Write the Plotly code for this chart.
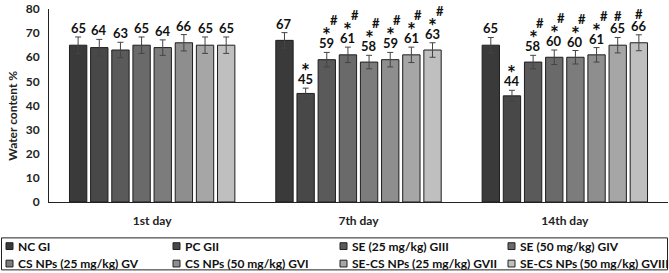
import plotly.graph_objects as go

categories = ["1st day", "7th day", "14th day"]
groups = ["NC GI", "PC GII", "SE (25 mg/kg) GIII", "SE (50 mg/kg) GIV",
          "CS NPs (25 mg/kg) GV", "CS NPs (50 mg/kg) GVI",
          "SE-CS NPs (25 mg/kg) GVII", "SE-CS NPs (50 mg/kg) GVIII"]
colors = ["#3a3a3a", "#484848", "#5a5a5a", "#6a6a6a",
          "#7c7c7c", "#8e8e8e", "#a6a6a6", "#bfbfbf"]

# values[group][day]
values = [
    [65, 67, 65],
    [64, 45, 44],
    [63, 59, 58],
    [65, 61, 60],
    [64, 58, 60],
    [66, 59, 61],
    [65, 61, 65],
    [65, 63, 66],
]
errors = [
    [3.4, 3.2, 3.2],
    [3.4, 2.2, 2.3],
    [3.2, 3.0, 2.8],
    [3.4, 3.2, 3.0],
    [3.2, 2.8, 2.8],
    [3.4, 3.0, 3.0],
    [3.4, 3.2, 3.2],
    [3.4, 3.0, 3.3],
]
# significance marks: "" none, "*", "#", "*#"
marks = [
    ["", "", ""],
    ["", "*", "*"],
    ["", "*#", "*#"],
    ["", "*#", "*#"],
    ["", "*#", "*#"],
    ["", "*#", "*#"],
    ["", "*#", "#"],
    ["", "*#", "#"],
]
y_ticks = [0, 10, 20, 30, 40, 50, 60, 70, 80]

FONT = "Lato"
W, H = 669, 273
ML, MR, MT, MB = 49, 1, 3, 71
PW, PH = W - ML - MR, H - MT - MB
BARGAP, GROUPGAP = 0.18, 0.18


def xp(px):
    return (px - ML) / PW


def yp(py):
    return (H - MB - py) / PH


fig = go.Figure()
for gi, name in enumerate(groups):
    fig.add_trace(go.Bar(
        x=categories, y=values[gi], name=name,
        marker=dict(color=colors[gi], line=dict(color="#1e1e1e", width=1)),
        error_y=dict(type="data", array=errors[gi], visible=True,
                     color="#444444", thickness=1, width=3),
        showlegend=False,
    ))

annotations = []
n = len(groups)
slot = (1 - BARGAP) / n
for gi in range(n):
    for ci in range(len(categories)):
        xv = ci + (gi - (n - 1) / 2) * slot
        top = values[gi][ci] + errors[gi][ci]
        annotations.append(dict(
            x=xv, y=top, xref="x", yref="y", text=str(values[gi][ci]),
            showarrow=False, yanchor="bottom", yshift=-1,
            font=dict(family=FONT, size=13, color="#111111", weight="bold")))
        m = marks[gi][ci]
        if "*" in m:
            annotations.append(dict(
                x=xv, y=top, xref="x", yref="y", text="*",
                showarrow=False, yanchor="bottom", yshift=3,
                font=dict(family=FONT, size=21, color="#111111", weight="bold")))
        if "#" in m:
            if "*" in m:
                xs, ys = 7, 22
            else:
                xs, ys = 0, 11
            annotations.append(dict(
                x=xv, y=top, xref="x", yref="y", text="#",
                showarrow=False, yanchor="bottom", yshift=ys, xshift=xs,
                font=dict(family=FONT, size=13, color="#111111", weight="bold")))

# y-axis title
annotations.append(dict(
    x=xp(13), y=yp(113), xref="paper", yref="paper", text="Water content %",
    textangle=-90, showarrow=False, xanchor="center", yanchor="middle",
    font=dict(family=FONT, size=12, color="#222222", weight="bold")))

# custom legend
shapes = [dict(type="rect", xref="paper", yref="paper",
               x0=xp(1.5), x1=xp(667.5), y0=yp(239), y1=yp(272),
               line=dict(color="#222222", width=1), fillcolor="rgba(0,0,0,0)")]
col_x = [6, 173, 340, 508]
row_y = [247.5, 265.5]
for gi, name in enumerate(groups):
    cx = col_x[gi % 4]
    cy = row_y[gi // 4]
    shapes.append(dict(type="rect", xref="paper", yref="paper",
                       x0=xp(cx), x1=xp(cx + 7), y0=yp(cy - 3.5), y1=yp(cy + 3.5),
                       line=dict(color="#222222", width=1), fillcolor=colors[gi]))
    annotations.append(dict(
        x=xp(cx + 10), y=yp(cy), xref="paper", yref="paper", text=name,
        showarrow=False, xanchor="left", yanchor="middle",
        font=dict(family=FONT, size=12, color="#111111", weight="bold")))

fig.update_layout(
    width=W, height=H,
    margin=dict(l=ML, r=MR, t=MT, b=MB, pad=0),
    barmode="group", bargap=BARGAP, bargroupgap=GROUPGAP,
    plot_bgcolor="white", paper_bgcolor="white",
    font=dict(family=FONT, size=12, color="#222222"),
    annotations=annotations, shapes=shapes,
    xaxis=dict(showline=True, linecolor="#222222", linewidth=1, showgrid=False,
               ticks="", ticklabelstandoff=8,
               tickfont=dict(family=FONT, size=12, color="#222222", weight="bold")),
    yaxis=dict(range=[0, 80], tickvals=y_ticks, showline=True, linecolor="#222222",
               linewidth=1, showgrid=False, ticks="", ticklabelstandoff=6,
               zeroline=False, ticklabeloverflow="allow",
               tickfont=dict(family=FONT, size=12, color="#222222", weight="bold")),
)

fig.write_html("out.html", config={"displayModeBar": False},
               post_script="document.body.style.margin='0';document.body.style.padding='0';")
